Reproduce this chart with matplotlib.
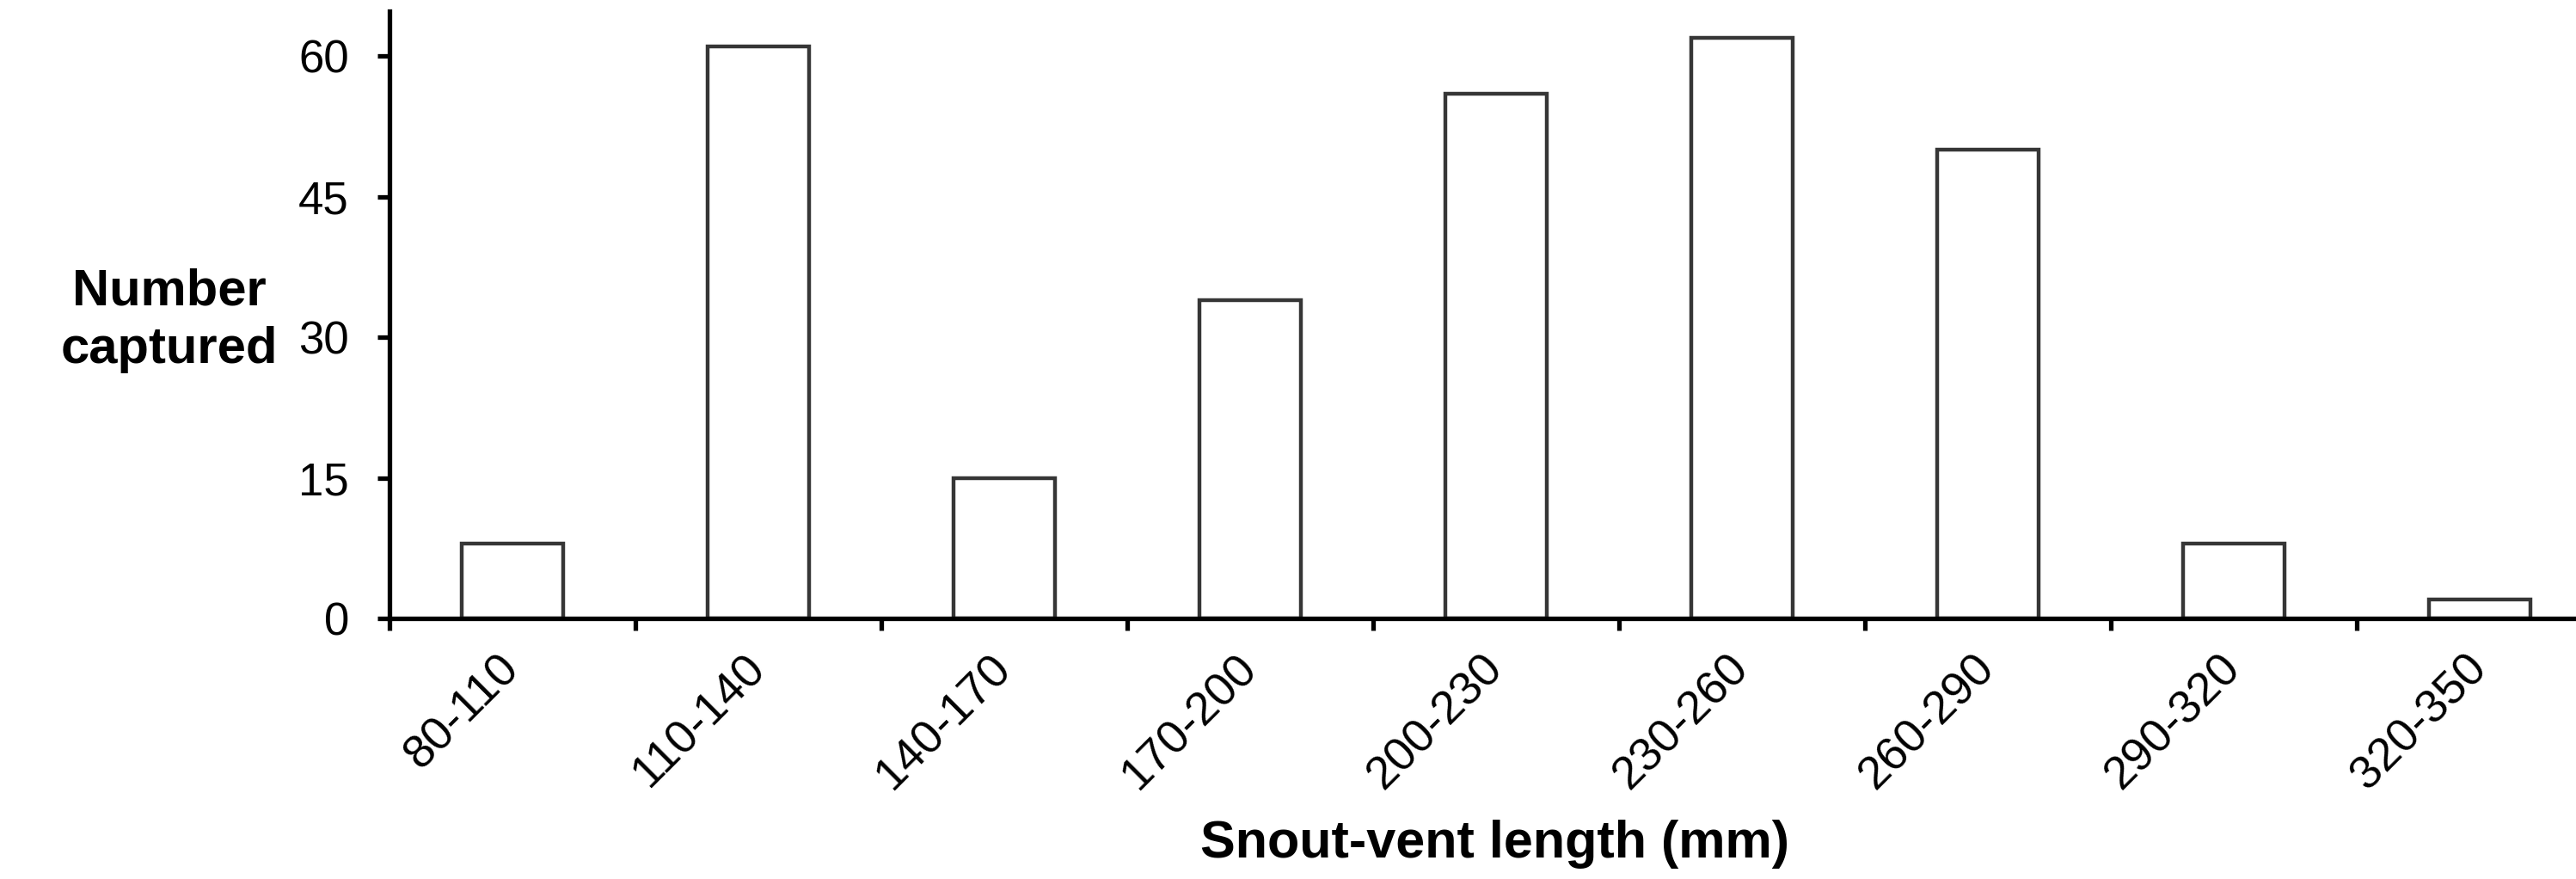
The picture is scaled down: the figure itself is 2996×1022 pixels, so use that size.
import matplotlib
matplotlib.use("Agg")
import matplotlib.pyplot as plt
import numpy as np

plt.rcParams['font.family'] = ['Liberation Sans', 'DejaVu Sans']

categories = ["80-110", "110-140", "140-170", "170-200", "200-230",
              "230-260", "260-290", "290-320", "320-350"]
counts = [8, 61, 15, 34, 56, 62, 50, 8, 2]
yticks = [0, 15, 30, 45, 60]

W, H, DPI = 2996, 1022, 100
fig = plt.figure(figsize=(W / DPI, H / DPI), dpi=DPI)
ax = fig.add_axes([453 / W, 1 - 719 / H, 1 - 453 / W, (719 - 13) / H])

x = np.arange(len(categories))
ax.bar(x, counts, width=0.41, facecolor="white", edgecolor="#363636",
       linewidth=3.2, zorder=2)

ax.set_xlim(-0.5, -0.5 + 2543 / 286)
ax.set_ylim(0, 64.8)

for s in ["top", "right"]:
    ax.spines[s].set_visible(False)
for s in ["left", "bottom"]:
    ax.spines[s].set_linewidth(3.8)
    ax.spines[s].set_color("black")
    ax.spines[s].set_zorder(3)

ax.set_yticks(yticks)
ax.set_yticklabels([str(v) for v in yticks])
ax.tick_params(axis="y", direction="out", length=10, width=3.8,
               labelsize=38, pad=24, colors="black")

# boundary ticks (major, no labels), category labels on minor ticks
ax.set_xticks(x - 0.5)
ax.set_xticklabels([])
ax.tick_params(axis="x", which="major", direction="out", length=10, width=3.8)
ax.set_xticks(x, minor=True)
ax.set_xticklabels(categories, minor=True, rotation=45, ha="right",
                   va="center", rotation_mode="anchor")
ax.tick_params(axis="x", which="minor", length=0, labelsize=39, pad=36)

ax.set_xlabel("Snout-vent length (mm)", fontsize=44, fontweight="bold",
              va="center")
ax.xaxis.set_label_coords((1739 - 453) / 2543, -(982 - 719) / 706)

ax.set_ylabel("Number\ncaptured", fontsize=43, fontweight="bold",
              rotation=0, ha="center", va="center", linespacing=1.3)
ax.yaxis.set_label_coords((197 - 453) / 2543, (719 - 373) / 706)

fig.savefig("out.png", dpi=DPI)
